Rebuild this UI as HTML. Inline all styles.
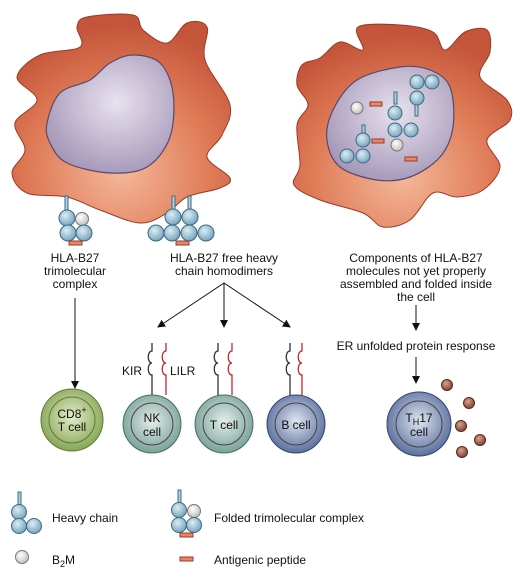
<!DOCTYPE html>
<html><head><meta charset="utf-8"><style>
body{margin:0;background:#fff}
svg{display:block;font-family:"Liberation Sans",sans-serif;font-size:12px;fill:#111}
</style></head><body>
<svg width="526" height="586" viewBox="0 0 526 586">
<defs>
<radialGradient id="cellg" cx="0.5" cy="0.75" r="0.7"><stop offset="0" stop-color="#f4b89a"/><stop offset="0.6" stop-color="#df7a56"/><stop offset="1" stop-color="#c4543a"/></radialGradient>
<radialGradient id="nucg" cx="0.55" cy="0.4" r="0.7"><stop offset="0" stop-color="#e8e2ee"/><stop offset="1" stop-color="#9e8fb3"/></radialGradient>
<radialGradient id="bead" cx="0.4" cy="0.35" r="0.7"><stop offset="0" stop-color="#dbeef5"/><stop offset="1" stop-color="#6f9fb8"/></radialGradient>
<radialGradient id="wbead" cx="0.4" cy="0.35" r="0.7"><stop offset="0" stop-color="#fff"/><stop offset="1" stop-color="#bdbdb5"/></radialGradient>
<radialGradient id="green" cx="0.5" cy="0.45" r="0.6"><stop offset="0" stop-color="#e2ecc8"/><stop offset="1" stop-color="#7f9f4c"/></radialGradient>
<radialGradient id="teal" cx="0.5" cy="0.45" r="0.6"><stop offset="0" stop-color="#e3eeea"/><stop offset="1" stop-color="#6f9a90"/></radialGradient>
<radialGradient id="blue" cx="0.5" cy="0.45" r="0.6"><stop offset="0" stop-color="#dfe4f0"/><stop offset="1" stop-color="#4f6596"/></radialGradient>
<radialGradient id="dot" cx="0.4" cy="0.35" r="0.7"><stop offset="0" stop-color="#d9a18e"/><stop offset="1" stop-color="#7a3d2b"/></radialGradient>
<marker id="ar" markerWidth="8" markerHeight="8" refX="7" refY="4" orient="auto"><path d="M0,0 L8,4 L0,8 z" fill="#111"/></marker>
</defs>
<g stroke="#9b3a24" stroke-width="1">
<path id="cellL" fill="url(#cellg)"/>
<path id="cellR" fill="url(#cellg)"/>
</g>
<g stroke="#5a4a6a" stroke-width="1.2">
<path id="nucL" fill="url(#nucg)"/>
<path id="nucR" fill="url(#nucg)"/>
</g>
<g stroke="#3d6a82" stroke-width="1">
<rect x="394" y="92" width="3" height="12" fill="#aed0df"/>
<rect x="415" y="102" width="3" height="14" fill="#aed0df"/>
<rect x="362" y="125" width="3" height="12" fill="#aed0df"/>
<circle cx="417" cy="82" r="7" fill="url(#bead)"/><circle cx="432" cy="82" r="7" fill="url(#bead)"/><circle cx="417" cy="98" r="7" fill="url(#bead)"/>
<circle cx="395" cy="113" r="7" fill="url(#bead)"/><circle cx="395" cy="130" r="7" fill="url(#bead)"/><circle cx="411" cy="130" r="7" fill="url(#bead)"/>
<circle cx="363" cy="140" r="7" fill="url(#bead)"/><circle cx="347" cy="156" r="7" fill="url(#bead)"/><circle cx="363" cy="156" r="7" fill="url(#bead)"/>
<circle cx="357" cy="108" r="6" fill="url(#wbead)" stroke="#777"/><circle cx="397" cy="145" r="6" fill="url(#wbead)" stroke="#777"/>
<g fill="#e6876a" stroke="#9b3a24"><rect x="370" y="102" width="12" height="4"/><rect x="372" y="139" width="12" height="4"/><rect x="405" y="157" width="12" height="4"/></g>
</g>
<g stroke="#3d6a82" stroke-width="1">
<rect x="65" y="196" width="3" height="14" fill="#aed0df"/>
<circle cx="67" cy="218" r="8" fill="url(#bead)"/>
<circle cx="82" cy="219" r="6.5" fill="url(#wbead)" stroke="#777"/>
<circle cx="68" cy="233" r="8" fill="url(#bead)"/><circle cx="84" cy="233" r="8" fill="url(#bead)"/>
<rect x="69" y="241" width="13" height="4" fill="#e6876a" stroke="#9b3a24"/>
</g>
<g stroke="#3d6a82" stroke-width="1">
<rect x="172" y="196" width="3" height="14" fill="#aed0df"/><rect x="188" y="196" width="3" height="14" fill="#aed0df"/>
<circle cx="173" cy="217" r="8" fill="url(#bead)"/><circle cx="190" cy="217" r="8" fill="url(#bead)"/>
<circle cx="156" cy="233" r="8" fill="url(#bead)"/><circle cx="172" cy="233" r="8" fill="url(#bead)"/><circle cx="189" cy="233" r="8" fill="url(#bead)"/><circle cx="206" cy="233" r="8" fill="url(#bead)"/>
<rect x="176" y="241" width="13" height="4" fill="#e6876a" stroke="#9b3a24"/>
</g>
<g text-anchor="middle">
<text x="75" y="262">HLA-B27<tspan x="75" dy="13">trimolecular</tspan><tspan x="75" dy="13">complex</tspan></text>
<text x="224" y="262">HLA-B27 free heavy<tspan x="224" dy="13">chain homodimers</tspan></text>
<text x="416" y="262">Components of HLA-B27<tspan x="416" dy="13">molecules not yet properly</tspan><tspan x="416" dy="13">assembled and folded inside</tspan><tspan x="416" dy="13">the cell</tspan></text>
<text x="416" y="350">ER unfolded protein response</text>
</g>
<g stroke="#111" stroke-width="1" fill="none" marker-end="url(#ar)">
<line x1="75" y1="298" x2="75" y2="388"/>
<line x1="224" y1="283" x2="158" y2="327"/>
<line x1="224" y1="283" x2="224" y2="327"/>
<line x1="224" y1="283" x2="290" y2="327"/>
<line x1="416" y1="305" x2="416" y2="330"/>
<line x1="416" y1="357" x2="416" y2="383"/>
</g>
<g fill="none" stroke-width="1.3">
<g stroke="#333"><path d="M152,343 v8 c-5,0 -5,12 0,12 c-5,0 -5,12 0,12 v20"/><path d="M218,343 v8 c-5,0 -5,12 0,12 c-5,0 -5,12 0,12 v20"/><path d="M290,343 v8 c-5,0 -5,12 0,12 c-5,0 -5,12 0,12 v20"/></g>
<g stroke="#c0282d"><path d="M166,343 v8 c-5,0 -5,12 0,12 c-5,0 -5,12 0,12 v20"/><path d="M232,343 v8 c-5,0 -5,12 0,12 c-5,0 -5,12 0,12 v20"/><path d="M302,343 v8 c-5,0 -5,12 0,12 c-5,0 -5,12 0,12 v20"/></g>
</g>
<text x="122" y="375">KIR</text>
<text x="170" y="375">LILR</text>
<g stroke="#333" stroke-width="1">
<circle cx="72" cy="420" r="31" fill="url(#green)" stroke="#5b7a33"/>
<circle cx="72" cy="420" r="23" fill="none" stroke="#5b7a33"/>
<circle cx="152" cy="424" r="29" fill="url(#teal)" stroke="#4a6e66"/>
<circle cx="152" cy="424" r="21" fill="none" stroke="#444"/>
<circle cx="224" cy="424" r="29" fill="url(#teal)" stroke="#4a6e66"/>
<circle cx="224" cy="424" r="21" fill="none" stroke="#444"/>
<circle cx="296" cy="424" r="29" fill="url(#blue)" stroke="#34466e"/>
<circle cx="296" cy="424" r="21" fill="none" stroke="#444"/>
<circle cx="419" cy="424" r="32" fill="url(#blue)" stroke="#34466e"/>
<circle cx="419" cy="424" r="23" fill="none" stroke="#444"/>
</g>
<g text-anchor="middle" font-size="12">
<text x="72" y="418">CD8<tspan dy="-5" font-size="9">+</tspan><tspan x="72" dy="18">T cell</tspan></text>
<text x="152" y="422">NK<tspan x="152" dy="14">cell</tspan></text>
<text x="224" y="429">T cell</text>
<text x="296" y="429">B cell</text>
<text x="419" y="422">T<tspan font-size="9" dy="3">H</tspan><tspan dy="-3">17</tspan><tspan x="419" dy="14">cell</tspan></text>
</g>
<g fill="url(#dot)" stroke="#5a2a1c">
<circle cx="447" cy="385" r="5.5"/><circle cx="469" cy="403" r="5.5"/><circle cx="461" cy="426" r="5.5"/><circle cx="480" cy="440" r="5.5"/><circle cx="462" cy="452" r="5.5"/>
</g>
<g stroke="#3d6a82" stroke-width="1">
<rect x="18" y="492" width="3" height="13" fill="#aed0df"/>
<circle cx="19" cy="512" r="7.5" fill="url(#bead)"/><circle cx="19" cy="526" r="7.5" fill="url(#bead)"/><circle cx="34" cy="526" r="7.5" fill="url(#bead)"/>
<circle cx="22" cy="557" r="6.5" fill="url(#wbead)" stroke="#777"/>
<rect x="178" y="490" width="3" height="13" fill="#aed0df"/>
<circle cx="179" cy="510" r="7.5" fill="url(#bead)"/><circle cx="194" cy="511" r="6.5" fill="url(#wbead)" stroke="#777"/>
<circle cx="179" cy="525" r="7.5" fill="url(#bead)"/><circle cx="194" cy="525" r="7.5" fill="url(#bead)"/>
<rect x="180" y="533" width="13" height="4" fill="#e6876a" stroke="#9b3a24"/>
<rect x="180" y="557" width="13" height="4" fill="#e6876a" stroke="#9b3a24"/>
</g>
<text x="52" y="522">Heavy chain</text>
<text x="52" y="564">B<tspan font-size="9" dy="3">2</tspan><tspan dy="-3">M</tspan></text>
<text x="214" y="522">Folded trimolecular complex</text>
<text x="214" y="564">Antigenic peptide</text>
</svg>
<script>
const cellLeftOutline=[[87,17],[133,15],[143,30],[167,43],[187,23],[207,27],[205,60],[230,105],[222,135],[207,157],[230,178],[220,188],[187,197],[167,213],[140,223],[100,210],[67,197],[27,193],[12,173],[25,150],[15,123],[37,100],[17,77],[40,55],[80,47],[77,27]];
const cellRightOutline=[[358,27],[400,25],[433,32],[445,50],[465,32],[487,30],[490,52],[480,77],[507,100],[510,120],[487,140],[500,167],[483,190],[457,197],[433,193],[410,220],[383,227],[363,213],[320,200],[294,185],[300,165],[297,125],[308,105],[297,85],[302,65],[320,58],[340,42],[363,50]];
const nucLeftOutline=[[47,123],[60,93],[90,80],[110,63],[133,55],[160,63],[173,93],[170,137],[147,167],[110,173],[67,163],[50,143]];
const nucRightOutline=[[333,110],[357,80],[400,67],[430,70],[450,87],[453,127],[440,157],[410,177],[377,180],[340,167],[327,140]];
function smooth(p){const n=p.length;let d='M'+p[0][0]+','+p[0][1];
for(let i=0;i<n;i++){const p0=p[(i-1+n)%n],p1=p[i],p2=p[(i+1)%n],p3=p[(i+2)%n];
const c1=[p1[0]+(p2[0]-p0[0])/6,p1[1]+(p2[1]-p0[1])/6],c2=[p2[0]-(p3[0]-p1[0])/6,p2[1]-(p3[1]-p1[1])/6];
d+=' C'+c1[0].toFixed(1)+','+c1[1].toFixed(1)+' '+c2[0].toFixed(1)+','+c2[1].toFixed(1)+' '+p2[0]+','+p2[1];}
return d+'Z';}
document.getElementById('cellL').setAttribute('d',smooth(cellLeftOutline));
document.getElementById('cellR').setAttribute('d',smooth(cellRightOutline));
document.getElementById('nucL').setAttribute('d',smooth(nucLeftOutline));
document.getElementById('nucR').setAttribute('d',smooth(nucRightOutline));
</script>
</body></html>
